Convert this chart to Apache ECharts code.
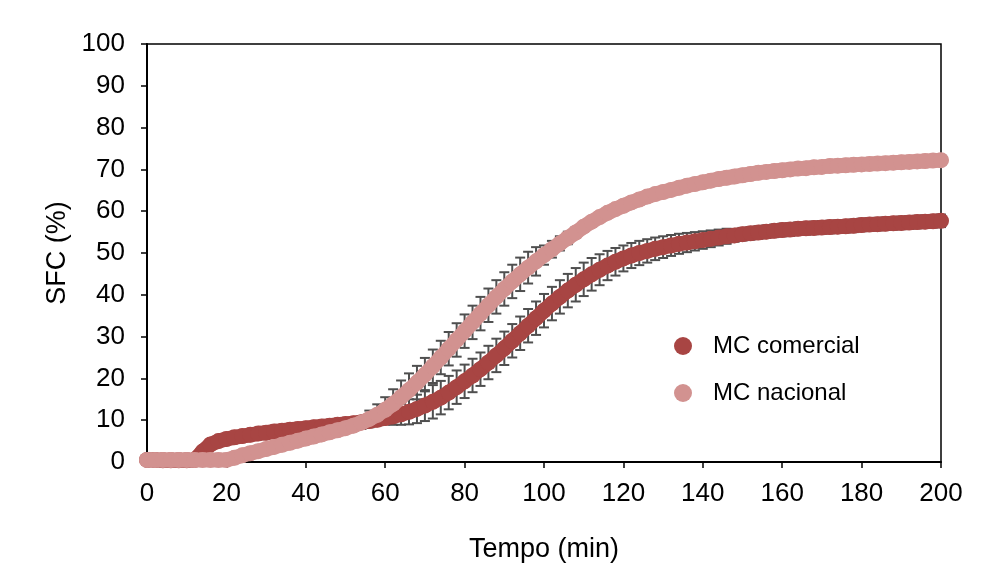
<!DOCTYPE html>
<html>
<head>
<meta charset="utf-8">
<script src="https://cdn.jsdelivr.net/npm/echarts@6/dist/echarts.min.js"></script>
<style>html,body{margin:0;padding:0;background:#fff}#c{width:988px;height:568px}</style>
</head>
<body>
<div id="c"></div>
<script>
var time = [0,2,4,6,8,10,12,14,16,18,20,22,24,26,28,30,32,34,36,38,40,42,44,46,48,50,52,54,56,58,60,62,64,66,68,70,72,74,76,78,80,82,84,86,88,90,92,94,96,98,100,102,104,106,108,110,112,114,116,118,120,122,124,126,128,130,132,134,136,138,140,142,144,146,148,150,152,154,156,158,160,162,164,166,168,170,172,174,176,178,180,182,184,186,188,190,192,194,196,198,200];

var comercial = [0.5,0.5,0.4,0.4,0.4,0.4,0.5,2.5,4.2,5.0,5.5,5.9,6.2,6.5,6.8,7.0,7.3,7.5,7.7,7.9,8.1,8.3,8.5,8.7,8.9,9.1,9.3,9.5,9.8,10.1,10.5,10.9,11.4,12.0,12.7,13.5,14.4,15.4,16.6,17.9,19.3,20.7,22.2,23.8,25.5,27.2,29.0,30.8,32.6,34.4,36.2,37.9,39.5,41.0,42.4,43.7,44.9,46.0,47.0,47.9,48.7,49.4,50.0,50.5,51.0,51.4,51.8,52.2,52.5,52.8,53.1,53.4,53.7,54.0,54.2,54.5,54.7,54.9,55.1,55.3,55.5,55.6,55.8,55.9,56.0,56.1,56.2,56.3,56.4,56.5,56.7,56.8,56.9,57.0,57.1,57.2,57.3,57.4,57.5,57.6,57.7];

var nacional = [0.5,0.5,0.5,0.5,0.5,0.5,0.5,0.5,0.5,0.5,0.5,1.0,1.6,2.1,2.6,3.1,3.6,4.1,4.6,5.1,5.6,6.1,6.6,7.1,7.6,8.1,8.7,9.4,10.3,11.3,12.5,13.9,15.5,17.2,19.0,20.9,22.9,25.0,27.1,29.2,31.3,33.4,35.5,37.5,39.5,41.4,43.2,44.9,46.5,48.0,49.5,50.9,52.3,53.6,54.9,56.3,57.5,58.6,59.6,60.5,61.3,62.1,62.8,63.5,64.1,64.6,65.1,65.6,66.1,66.5,66.9,67.3,67.7,68.0,68.3,68.6,68.9,69.2,69.4,69.6,69.8,70.0,70.2,70.3,70.5,70.6,70.8,70.9,71.0,71.1,71.2,71.3,71.4,71.5,71.6,71.7,71.8,71.9,72.0,72.1,72.2];

var errComercial = [0.5,0.5,0.5,0.5,0.5,0.5,0.5,0.5,0.5,0.5,0.5,0.5,0.5,0.5,0.5,0.5,0.5,0.5,0.5,0.5,0.5,0.5,0.5,0.5,0.5,0.5,0.5,0.5,0.8,1.1,1.5,2.0,2.5,3.0,3.4,3.7,4.0,4.0,4.0,4.0,4.0,4.0,4.0,4.0,4.0,4.0,4.0,4.0,4.0,4.0,4.0,4.0,4.0,4.0,4.0,4.0,3.9,3.7,3.5,3.3,3.1,3.0,2.9,2.8,2.7,2.6,2.5,2.4,2.3,2.2,2.1,2.0,1.9,1.8,1.5,1.5,1.5,1.5,1.5,1.5,1.5,1.5,1.5,1.5,1.5,1.5,1.5,1.5,1.5,1.5,1.5,1.5,1.5,1.5,1.5,1.5,1.5,1.5,1.5,1.5,1.5];

var errNacional = [0.5,0.5,0.5,0.5,0.5,0.5,0.5,0.5,0.5,0.5,0.5,0.5,0.5,0.5,0.5,0.5,0.5,0.5,0.5,0.5,0.5,0.5,0.5,0.5,0.5,0.5,1.0,1.5,2.0,2.5,3.0,3.5,4.0,4.0,4.0,4.0,4.0,4.0,4.0,4.0,4.0,4.0,4.0,4.0,4.0,4.0,4.0,4.0,3.8,3.4,2.3,2.0,1.7,1.5,1.3,1.0,1.0,1.0,1.0,1.0,1.0,1.0,1.0,1.0,1.0,1.0,1.0,1.0,1.0,1.0,1.0,1.0,1.0,1.0,1.0,1.0,1.0,1.0,1.0,1.0,1.0,1.0,1.0,1.0,1.0,1.0,1.0,1.0,1.0,1.0,1.0,1.0,1.0,1.0,1.0,1.0,1.0,1.0,1.0,1.0,1.0];

var xTicks = [0,20,40,60,80,100,120,140,160,180,200];
var yTicks = [0,10,20,30,40,50,60,70,80,90,100];
var seriesNames = ['MC comercial','MC nacional'];
var colors = ['#A84543','#D29290'];

function pairs(ys){ return time.map(function(t,i){ return [t, ys[i]]; }); }
function errData(ys, es){ return time.map(function(t,i){ return [t, ys[i]-es[i], ys[i]+es[i]]; }); }

function renderErr(params, api){
  var x = api.value(0), lo = api.value(1), hi = api.value(2);
  var p1 = api.coord([x, lo]), p2 = api.coord([x, hi]);
  var hw = 5;
  var st = {stroke:'#4f4f4f', lineWidth:2};
  return {type:'group', children:[
    {type:'line', shape:{x1:p1[0],y1:p1[1],x2:p2[0],y2:p2[1]}, style:st},
    {type:'line', shape:{x1:p1[0]-hw,y1:p1[1],x2:p1[0]+hw,y2:p1[1]}, style:st},
    {type:'line', shape:{x1:p2[0]-hw,y1:p2[1],x2:p2[0]+hw,y2:p2[1]}, style:st}
  ]};
}

var font = 'Liberation Sans, Arial, sans-serif';
var SZ = 16;
var chart = echarts.init(document.getElementById('c'), null, {renderer:'canvas'});
chart.setOption({
  animation:false,
  backgroundColor:'#ffffff',
  grid:{left:147, right:47, top:44, bottom:106, show:true, borderColor:'#000', borderWidth:1.5, backgroundColor:'transparent'},
  legend:{
    data:seriesNames, orient:'vertical', left:669, top:329, itemGap:23,
    icon:'circle', itemWidth:18, itemHeight:18,
    textStyle:{fontFamily:font, fontSize:24, color:'#000', padding:[0,0,0,16]}
  },
  xAxis:{
    type:'value', min:0, max:200, interval:20,
    name:'Tempo (min)', nameLocation:'middle', nameGap:74,
    nameTextStyle:{fontFamily:font, fontSize:27, color:'#000'},
    axisLine:{lineStyle:{color:'#000', width:2}},
    axisTick:{inside:false, length:6, lineStyle:{color:'#000', width:1.5}},
    axisLabel:{fontFamily:font, fontSize:26, color:'#000', margin:19,
      formatter:function(v){ return xTicks.indexOf(v)>=0 ? String(v) : ''; }},
    splitLine:{show:false}
  },
  yAxis:{
    type:'value', min:0, max:100, interval:10,
    name:'SFC (%)', nameLocation:'middle', nameGap:72, nameRotate:90,
    nameTextStyle:{fontFamily:font, fontSize:27, color:'#000'},
    axisLine:{show:true, lineStyle:{color:'#000', width:2}},
    axisTick:{show:true, inside:false, length:6, lineStyle:{color:'#000', width:1.5}},
    axisLabel:{fontFamily:font, fontSize:26, color:'#000', margin:22,
      formatter:function(v){ return yTicks.indexOf(v)>=0 ? String(v) : ''; }},
    splitLine:{show:false}
  },
  series:[
    {type:'custom', name:'errC', z:1, renderItem:renderErr, data:errData(comercial, errComercial), encode:{x:0, y:[1,2]}, silent:true},
    {type:'custom', name:'errN', z:1, renderItem:renderErr, data:errData(nacional, errNacional), encode:{x:0, y:[1,2]}, silent:true},
    {type:'line', name:seriesNames[0], z:2, data:pairs(comercial), showSymbol:false, symbol:'circle', lineStyle:{color:colors[0], width:SZ-1, cap:'round', join:'round'}, itemStyle:{color:colors[0]}, silent:true},
    {type:'scatter', name:seriesNames[0], z:2, data:pairs(comercial), symbol:'circle', symbolSize:SZ, itemStyle:{color:colors[0], opacity:1}},
    {type:'line', name:seriesNames[1], z:3, data:pairs(nacional), showSymbol:false, symbol:'circle', lineStyle:{color:colors[1], width:SZ-1, cap:'round', join:'round'}, itemStyle:{color:colors[1]}, silent:true},
    {type:'scatter', name:seriesNames[1], z:3, data:pairs(nacional), symbol:'circle', symbolSize:SZ, itemStyle:{color:colors[1], opacity:1}}
  ]
});
</script>
</body>
</html>
